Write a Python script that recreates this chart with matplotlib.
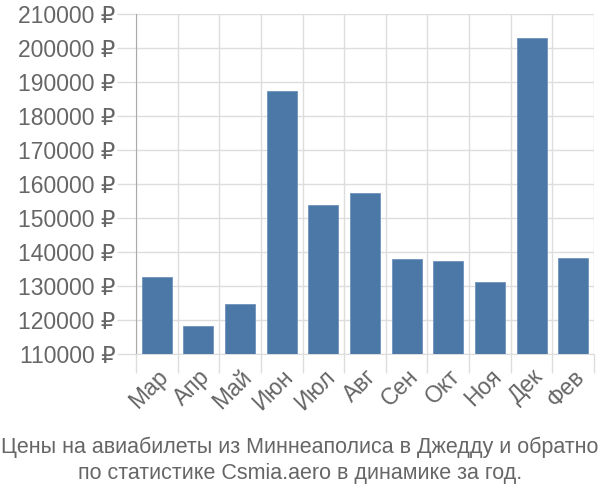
import matplotlib
matplotlib.use("Agg")
import matplotlib.pyplot as plt
import numpy as np
from matplotlib.ticker import FuncFormatter, MultipleLocator

plt.rcParams["font.family"] = ["Liberation Sans", "DejaVu Sans"]

months = ["Мар", "Апр", "Май", "Июн", "Июл", "Авг", "Сен", "Окт", "Ноя", "Дек", "Фев"]
prices = [132700, 118200, 124800, 187300, 153700, 157300, 137900, 137300, 131300, 203000, 138200]

BAR = "#4c78a8"
GRID = "#dddddd"
TEXT = "#666666"

fig = plt.figure(figsize=(6, 5), dpi=100)
ax = fig.add_axes([136 / 600, 1 - 354 / 500, 458 / 600, 340 / 500])

x = np.arange(len(months))
ax.bar(x, prices, width=0.72, bottom=0, color=BAR, edgecolor="#6f93bd", linewidth=0.6, zorder=3)

ax.set_xlim(-0.5, len(months) - 0.5)
ax.set_ylim(110000, 210000)

ax.yaxis.set_major_locator(MultipleLocator(10000))
ax.yaxis.set_major_formatter(FuncFormatter(lambda v, p: f"{int(v)} ₽"))
ax.grid(axis="y", color=GRID, linewidth=1, zorder=0)

# category boundaries as vertical grid + stubs
ax.set_xticks(x)
ax.set_xticklabels(months, rotation=45, ha="right", va="top", rotation_mode="anchor")
ax.set_xticks(np.arange(len(months) + 1) - 0.5, minor=True)
ax.grid(axis="x", which="minor", color=GRID, linewidth=1, zorder=0)
ax.tick_params(axis="x", which="major", length=0, pad=8, labelsize=16.5, labelcolor=TEXT)
ax.tick_params(axis="x", which="minor", length=14, color=GRID, width=1)
ax.tick_params(axis="y", length=14, color=GRID, width=1, pad=1, labelsize=16.5, labelcolor=TEXT)

for s in ["top", "right"]:
    ax.spines[s].set_visible(False)
ax.spines["bottom"].set_color(GRID)
ax.spines["left"].set_color("#aaaaaa")
ax.spines["left"].set_bounds(110000, 210000)

title_font = ["Liberation Sans Narrow", "Liberation Sans"]
fig.text(0.5, 1 - 447 / 500, "Цены на авиабилеты из Миннеаполиса в Джедду и обратно",
         ha="center", va="center", fontsize=15.5, color=TEXT, family=title_font)
fig.text(0.5, 1 - 473 / 500, "по статистике Csmia.aero в динамике за год.",
         ha="center", va="center", fontsize=15.5, color=TEXT, family=title_font)

fig.savefig("out.png", dpi=100)
